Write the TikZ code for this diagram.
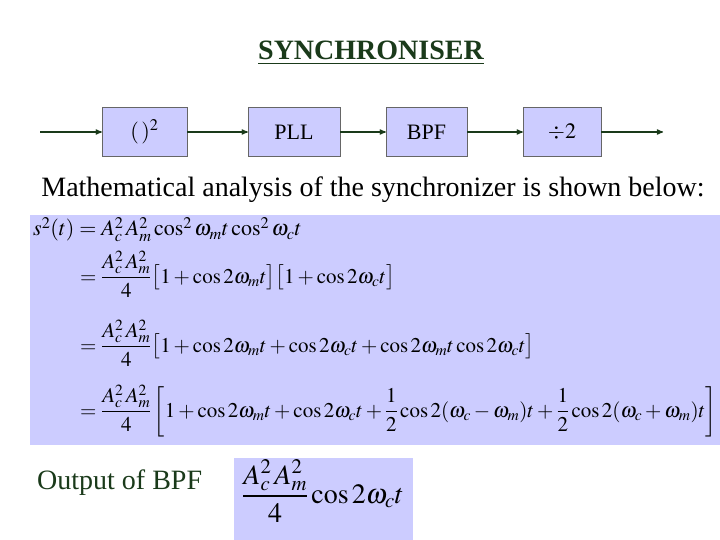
\documentclass[tikz,border=0pt]{standalone}
\usepackage{mathptmx}
\usepackage{fontspec}
\setmainfont{Liberation Serif}
\usetikzlibrary{arrows,positioning}
\definecolor{panel}{HTML}{CCCCFF}
\definecolor{darkgreen}{HTML}{1A3A1A}
\tikzset{block/.style={rectangle,draw=black!60,fill=panel,minimum height=49pt,inner sep=0pt,font=\fontsize{22}{24}\selectfont},
         flow/.style={->,>=stealth',draw=darkgreen,line width=1.2pt},
         eqn/.style={anchor=base west,inner sep=0pt,font=\fontsize{21}{26}\selectfont},
         plain text/.style={inner sep=0pt,font=\fontsize{28}{32}\selectfont}
}

\begin{document}
\begin{tikzpicture}[x=1pt,y=-1pt]
\useasboundingbox (0,0) rectangle (720,540);
\fill[white] (0,0) rectangle (720,540);
\node [plain text,text=darkgreen,font=\fontsize{28}{32}\selectfont\bfseries] (title) at (371,53) {\underline{SYNCHRONISER}};
% block diagram
\node [block,minimum width=85pt] (square) at (144.5,132) {$(\,)^2$};
\node [block,minimum width=92pt] (pll) at (294,132) {PLL};
\node [block,minimum width=81pt] (bpf) at (426.5,132) {BPF};
\node [block,minimum width=78pt] (half) at (562,132) {$\div 2$};
\coordinate (in) at (40,132);
\coordinate (out) at (663,132);
\draw [flow] (in) -- (square);
\draw [flow] (square) -- (pll);
\draw [flow] (pll) -- (bpf);
\draw [flow] (bpf) -- (half);
\draw [flow] (half) -- (out);
\node [plain text] (intro) at (373,190) {Mathematical analysis of the synchronizer is shown below:};
% derivation
\fill [panel] (30,215) rectangle (720,445);
\node [eqn,font=\fontsize{22}{26}\selectfont] (line1) at (33,236) {$s^2(t)=A_c^2\,A_m^2\cos^2\omega_m t\cos^2\omega_c t$};
\node [eqn] (line2) at (80,283) {$\displaystyle =\frac{A_c^2\,A_m^2}{4}\bigl[1+\cos 2\omega_m t\bigr]\bigl[1+\cos 2\omega_c t\bigr]$};
\node [eqn] (line3) at (80,352) {$\displaystyle =\frac{A_c^2\,A_m^2}{4}\bigl[1+\cos 2\omega_m t+\cos 2\omega_c t+\cos 2\omega_m t\cos 2\omega_c t\bigr]$};
\node [eqn] (line4) at (80,417) {$\displaystyle =\frac{A_c^2\,A_m^2}{4}\left[1+\cos 2\omega_m t+\cos 2\omega_c t+\frac{1}{2}\cos 2(\omega_c-\omega_m)t+\frac{1}{2}\cos 2(\omega_c+\omega_m)t\right]$};
% result
\node [plain text,text=darkgreen,anchor=west] (outlabel) at (37,483) {Output of BPF};
\node [rectangle,fill=panel,minimum width=179pt,minimum height=82pt,inner sep=0pt] (outbox) at (323.5,499) {};
\node [eqn,font=\fontsize{28}{32}\selectfont] (result) at (242,503) {$\displaystyle \frac{A_c^2\,A_m^2}{4}\cos 2\omega_c t$};
\end{tikzpicture}
\end{document}
